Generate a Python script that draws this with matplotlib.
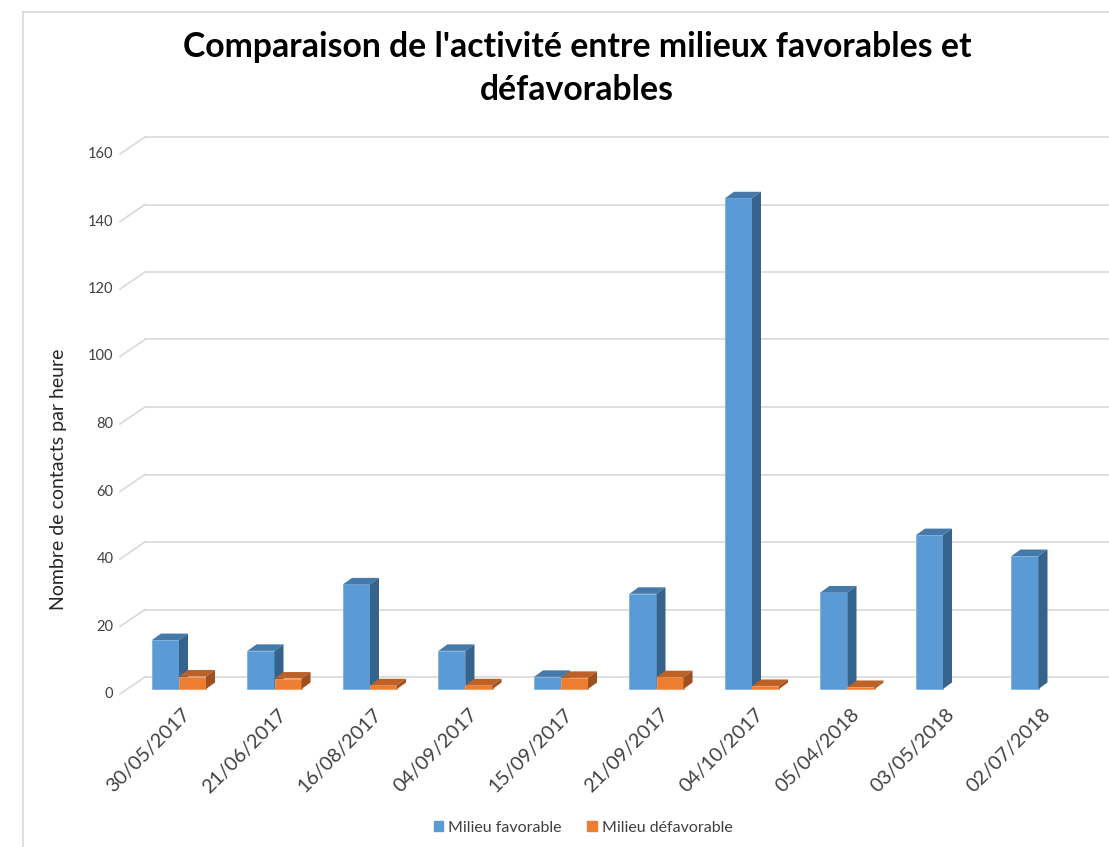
import matplotlib
matplotlib.use("Agg")
import matplotlib.pyplot as plt
import numpy as np
from matplotlib.patches import Polygon
from matplotlib.lines import Line2D

plt.rcParams['font.family'] = ['Lato', 'DejaVu Sans']

# data
dates = ['30/05/2017', '21/06/2017', '16/08/2017', '04/09/2017', '15/09/2017',
         '21/09/2017', '04/10/2017', '05/04/2018', '03/05/2018', '02/07/2018']
favorable = [14.5, 11.3, 31.0, 11.3, 3.6, 28.2, 145.4, 28.6, 45.6, 39.4]
defavorable = [3.7, 3.1, 1.1, 1.1, 3.3, 3.5, 0.9, 0.6, np.nan, np.nan]
yticks = [0, 20, 40, 60, 80, 100, 120, 140, 160]

# px scale of the plot: 95.5 px per category, 3.375 px per unit
PX_X = 95.5
PX_Y = 3.375
W = 0.283                  # width of one column
DX, DY = 9 / PX_X, 6.5 / PX_Y        # column depth
BACK_DX, BACK_DY = 25 / PX_X, 12 / PX_Y   # back wall offset
FRONT_DY = -5 / PX_Y                 # label plane offset

blue = {'front': '#5B9BD5', 'top': '#4579AA', 'side': '#35638C', 'edge': '#7DB0E0'}
orange = {'front': '#ED7D31', 'top': '#BD6127', 'side': '#9E5021', 'edge': '#F39A5C'}

fig = plt.figure(figsize=(11.09, 8.47), dpi=100)
L, R, T, B = 100, 1109, 120, 720
ax = fig.add_axes([L / 1109, (847 - B) / 847, (R - L) / 1109, (B - T) / 847])
ax.set_xlim((L - 179) / PX_X, (R - 179) / PX_X)
ax.set_ylim((689 - B) / PX_Y, (689 - T) / PX_Y)
ax.axis('off')

x = np.arange(len(dates))
x_front = (120 - 179) / PX_X

# walls: side-wall diagonals and back-wall gridlines
for v in yticks:
    ax.plot([x_front, x_front + BACK_DX], [v + FRONT_DY, v + BACK_DY],
            color='#D9D9D9', lw=1.2, clip_on=False, zorder=1)
    ax.plot([x_front + BACK_DX, 20], [v + BACK_DY, v + BACK_DY],
            color='#D9D9D9', lw=1.2, zorder=1)
    ax.text(x_front - 0.07, v + FRONT_DY, str(v), ha='right', va='center',
            fontsize=10.5, color='#404040')


def draw_3d(ax, xs, vals, style):
    bars = ax.bar(xs, vals, width=W, align='edge', color=style['front'],
                  edgecolor=style['edge'], linewidth=0.6, zorder=3)
    for b, v in zip(bars, vals):
        if np.isnan(v):
            continue
        x0 = b.get_x()
        x1 = x0 + b.get_width()
        top = Polygon([(x0, v), (x1, v), (x1 + DX, v + DY), (x0 + DX, v + DY)],
                      closed=True, facecolor=style['top'], edgecolor='none', zorder=3)
        side = Polygon([(x1, 0), (x1 + DX, DY), (x1 + DX, v + DY), (x1, v)],
                       closed=True, facecolor=style['side'], edgecolor='none', zorder=3)
        ax.add_patch(top)
        ax.add_patch(side)
        # keep depth order: each column above the previous one
        for p in (b, top, side):
            p.set_zorder(3 + 0.01 * draw_3d.n)
        draw_3d.n += 1


draw_3d.n = 0
for i in range(len(dates)):
    draw_3d(ax, [x[i] - W], [favorable[i]], blue)
    draw_3d(ax, [x[i]], [defavorable[i]], orange)

# category labels
for i, d in enumerate(dates):
    ax.text(x[i] + 0.03, -5.0, d, rotation=45, ha='right', va='top',
            rotation_mode='anchor', fontsize=14.3, color='#404040')

ax.text((L - 179) / PX_X - 0.43, 62, 'Nombre de contacts par heure', rotation=90,
        ha='center', va='center', fontsize=14, color='#262626', clip_on=False)

fig.text(577 / 1109, 1 - 47 / 847, "Comparaison de l'activité entre milieux favorables et",
         ha='center', va='center', fontsize=24.3, fontweight='bold', color='black')
fig.text(577 / 1109, 1 - 90 / 847, 'défavorables',
         ha='center', va='center', fontsize=24.3, fontweight='bold', color='black')

# legend
handles = [plt.Rectangle((0, 0), 1, 1, color=blue['front']),
           plt.Rectangle((0, 0), 1, 1, color=orange['front'])]
fig.legend(handles, ['Milieu favorable', 'Milieu défavorable'], loc='center',
           bbox_to_anchor=(583 / 1109, 1 - 828 / 847), ncol=2, frameon=False,
           fontsize=11.5, handlelength=0.6, handleheight=0.6, handletextpad=0.3,
           columnspacing=1.6, labelcolor='#404040')

# chart area border
fig.add_artist(Line2D([23 / 1109, 23 / 1109], [0, 1 - 12 / 847], color='#D9D9D9', lw=1.2))
fig.add_artist(Line2D([23 / 1109, 1], [1 - 12 / 847, 1 - 12 / 847], color='#D9D9D9', lw=1.2))

fig.savefig('out.png', dpi=100)
